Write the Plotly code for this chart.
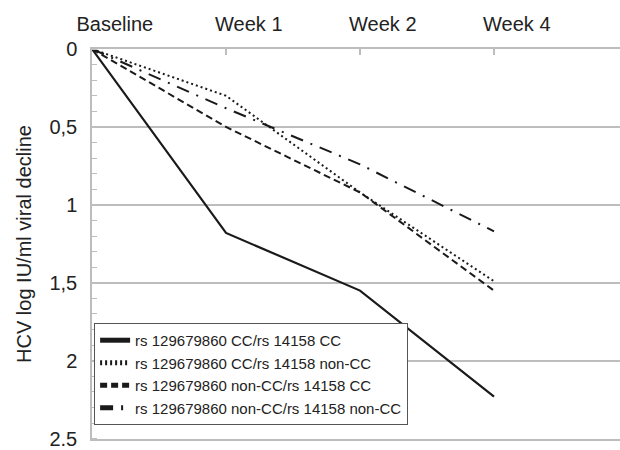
import plotly.graph_objects as go

categories = ["Baseline", "Week 1", "Week 2", "Week 4"]
x_pos = [0, 1, 2, 3]
label_pos = [0.17, 1.17, 2.17, 3.17]

series_names = [
    "rs 129679860 CC/rs 14158 CC",
    "rs 129679860 CC/rs 14158 non-CC",
    "rs 129679860 non-CC/rs 14158 CC",
    "rs 129679860 non-CC/rs 14158 non-CC",
]
cc_cc = [0, 1.18, 1.55, 2.23]
cc_noncc = [0, 0.30, 0.92, 1.49]
noncc_cc = [0, 0.50, 0.92, 1.55]
noncc_noncc = [0, 0.38, 0.74, 1.17]

y_ticks = [0, 0.5, 1, 1.5, 2, 2.5]
y_ticktext = ["0", "0,5", "1", "1,5", "2", "2.5"]

series_values = [cc_cc, cc_noncc, noncc_cc, noncc_noncc]
dashes = ["solid", "2px,3px", "7px,4px", "13px,8px,2px,8px"]
widths = [2.2, 2, 2, 2]

fig = go.Figure()
for name, vals, d, w in zip(series_names, series_values, dashes, widths):
    fig.add_trace(go.Scatter(
        x=x_pos, y=vals, mode="lines", name=name,
        line=dict(color="#1a1a1a", width=w, dash=d),
    ))

# invisible trace to activate x2 (tick marks at data positions)
fig.add_trace(go.Scatter(x=x_pos, y=[None]*4, xaxis="x2", showlegend=False,
                         hoverinfo="skip", mode="lines"))

font = "Liberation Sans, Arial, Helvetica, sans-serif"
gray = "#bdbdbd"

fig.update_layout(
    width=620, height=450,
    margin=dict(l=92, r=0, t=49, b=7),
    paper_bgcolor="white", plot_bgcolor="white",
    font=dict(family=font, color="#222222", size=20),
    showlegend=True,
    legend=dict(
        x=0.004, y=0.036, xanchor="left", yanchor="bottom",
        bordercolor="#555555", borderwidth=1, bgcolor="white",
        font=dict(size=15, family=font, color="#222222"),
        tracegroupgap=0, itemsizing="constant",
    ),
    xaxis=dict(
        range=[0, 3.94], side="top",
        tickvals=label_pos, ticktext=categories, ticks="",
        tickfont=dict(size=20), showgrid=False, zeroline=False,
        ticklabelstandoff=8,
        showline=True, linecolor=gray, linewidth=1.5, mirror=True,
    ),
    xaxis2=dict(
        range=[0, 3.94], overlaying="x", side="top",
        tickvals=[1, 2, 3], showticklabels=False, ticks="inside",
        ticklen=6, tickcolor=gray, tickwidth=1.5, showgrid=False,
        zeroline=False, showline=False,
    ),
    yaxis=dict(
        range=[2.502, 0], tickvals=y_ticks, ticktext=y_ticktext,
        tickfont=dict(size=20), showgrid=True, gridcolor=gray, gridwidth=1.5,
        zeroline=False, showline=True, linecolor=gray, linewidth=1.5,
        ticks="", ticklabelstandoff=9, ticklabeloverflow="allow",
        minor=dict(dtick=0.1, ticks="inside", ticklen=5, tickcolor=gray,
                   tickwidth=1.2, showgrid=False),
        title=dict(text="HCV log IU/ml viral decline", font=dict(size=20),
                   standoff=12),
    ),
)

fig.write_html("out.html")
